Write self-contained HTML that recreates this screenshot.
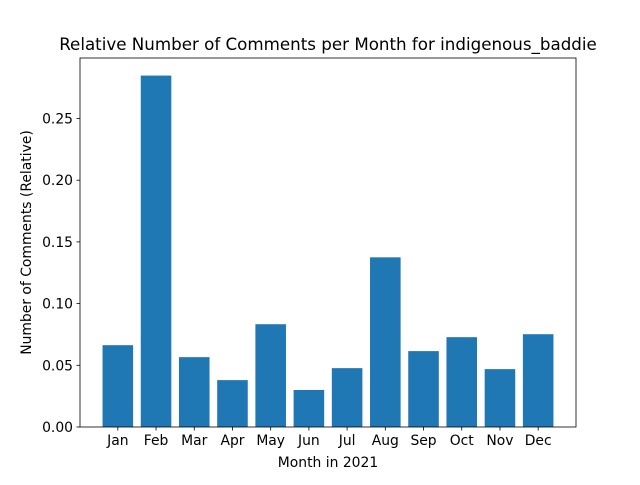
<!DOCTYPE html>
<html><head><meta charset="utf-8"><style>
body{margin:0;background:#fff;}
svg text{font-family:"DejaVu Sans","Liberation Sans",sans-serif;fill:#000;}
</style></head><body>
<svg id="chart" width="640" height="480" xmlns="http://www.w3.org/2000/svg">
<rect width="640" height="480" fill="#fff"/>
<g id="plot"></g>
</svg>
<script>
const categories = ["Jan","Feb","Mar","Apr","May","Jun","Jul","Aug","Sep","Oct","Nov","Dec"];
const values = [0.0663,0.2848,0.0566,0.038,0.0833,0.030,0.0477,0.1375,0.0615,0.0728,0.0469,0.0752];
const yTicks = [0,0.05,0.10,0.15,0.20,0.25];
const yTickLabels = ["0.00","0.05","0.10","0.15","0.20","0.25"];

const L=80,R=576,T=58,B=427;
const xmin=-0.99,xmax=categories.length-1+0.99;
const ymax=Math.max(...values)*1.05;
const xs=v=>L+(v-xmin)/(xmax-xmin)*(R-L);
const ys=v=>B-v/ymax*(B-T);
const NS="http://www.w3.org/2000/svg";
const g=document.getElementById('plot');
function mk(tag,attrs,parent){const e=document.createElementNS(NS,tag);for(const k in attrs)e.setAttribute(k,attrs[k]);(parent||g).appendChild(e);return e;}

values.forEach((v,i)=>{
  const r=mk('rect',{x:xs(i-0.4),y:ys(v),width:xs(i+0.4)-xs(i-0.4),height:B-ys(v),fill:'#1f77b4'});
  
  
});
categories.forEach((c,i)=>{
  mk('line',{x1:xs(i),x2:xs(i),y1:B,y2:B+3.5,stroke:'#000','stroke-width':0.8});
  const t=mk('text',{x:xs(i),y:B+18,'text-anchor':'middle','font-size':13.9});
  t.textContent=c;
  
  
});
yTicks.forEach((v,i)=>{
  mk('line',{x1:L-3.5,x2:L,y1:ys(v),y2:ys(v),stroke:'#000','stroke-width':0.8});
  const t=mk('text',{x:L-7,y:ys(v)+5,'text-anchor':'end','font-size':13.9});
  t.textContent=yTickLabels[i];
  
  
});
const f=mk('rect',{x:L,y:T,width:R-L,height:B-T,fill:'none',stroke:'#000','stroke-width':0.8});


const ti=mk('text',{x:(L+R)/2,y:T-8,'text-anchor':'middle','font-size':16.7});
ti.textContent='Relative Number of Comments per Month for indigenous_baddie';


const xl=mk('text',{x:(L+R)/2,y:467,'text-anchor':'middle','font-size':13.9});
xl.textContent='Month in 2021';


const yl=mk('text',{x:0,y:0,'text-anchor':'middle','font-size':13.9,transform:'translate(31,'+((T+B)/2)+') rotate(-90)'});
yl.textContent='Number of Comments (Relative)';


</script>
</body></html>
